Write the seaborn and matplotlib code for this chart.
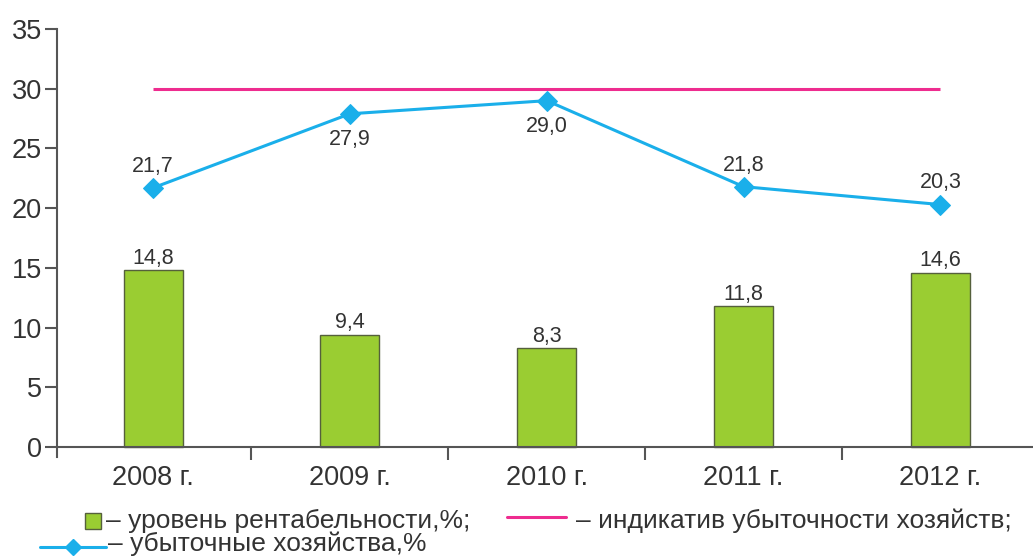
import matplotlib
matplotlib.use("Agg")
import matplotlib.pyplot as plt
from matplotlib.lines import Line2D
import seaborn as sns
import pandas as pd

# Data
years = ["2008 г.", "2009 г.", "2010 г.", "2011 г.", "2012 г."]
profitability = [14.8, 9.4, 8.3, 11.8, 14.6]
loss_farms = [21.7, 27.9, 29.0, 21.8, 20.3]
loss_indicator = 30
label_below = [False, True, True, False, False]

legend_labels = [
    "– уровень рентабельности,%;",
    "– индикатив убыточности хозяйств;",
    "– убыточные хозяйства,%",
]

BAR_COLOR = "#9ACD32"
BAR_EDGE = "#55603c"
LINE_COLOR = "#1AAFEA"
PINK = "#EE2C8F"
TEXT = "#333333"
AXIS = "#555555"

sns.set_style("white")
plt.rcParams["font.family"] = ["Liberation Sans", "DejaVu Sans"]

W, H = 1033, 556
fig = plt.figure(figsize=(W / 100, H / 100), dpi=100)
ax = fig.add_axes([57 / W, 1 - 456.6 / H, 1 - 57 / W, (456.6 - 29) / H])

df = pd.DataFrame({"year": years, "profit": profitability, "loss": loss_farms})

sns.barplot(data=df, x="year", y="profit", width=0.3, color=BAR_COLOR,
            saturation=1, edgecolor=BAR_EDGE, linewidth=1.0, ax=ax, zorder=2)

xs = list(range(len(years)))
ax.plot([xs[0], xs[-1]], [loss_indicator, loss_indicator], color=PINK,
        lw=2.2, zorder=3, solid_capstyle="butt")
sns.lineplot(x=xs, y=loss_farms, color=LINE_COLOR, lw=2.2, marker="D",
             markersize=10, markeredgecolor=LINE_COLOR, ax=ax, zorder=4)

# Value labels
LABEL_SIZE = 15.5
for i, v in enumerate(profitability):
    ax.annotate(f"{v:.1f}".replace(".", ","), (i, v), xytext=(0, 1),
                textcoords="offset points", ha="center", va="bottom",
                fontsize=LABEL_SIZE, color=TEXT)
for i, (v, below) in enumerate(zip(loss_farms, label_below)):
    if below:
        ax.annotate(f"{v:.1f}".replace(".", ","), (i, v), xytext=(0, -11),
                    textcoords="offset points", ha="center", va="top",
                    fontsize=LABEL_SIZE, color=TEXT)
    else:
        ax.annotate(f"{v:.1f}".replace(".", ","), (i, v), xytext=(0, 8),
                    textcoords="offset points", ha="center", va="bottom",
                    fontsize=LABEL_SIZE, color=TEXT)

# Axes styling
ax.set_xlim(-0.488, 4.47)
ax.set_ylim(-0.8, 35)
ax.set_yticks(range(0, 36, 5))
ax.set_xticks(xs)
ax.set_xticklabels(years)
ax.set_xticks([0.5, 1.5, 2.5, 3.5], minor=True)
ax.set_xlabel("")
ax.set_ylabel("")
ax.tick_params(axis="y", which="major", direction="out", length=9, width=1.5,
               color=AXIS, labelsize=19.5, labelcolor=TEXT, pad=2, left=True)
ax.tick_params(axis="x", which="major", length=0, labelsize=19.5,
               labelcolor=TEXT, pad=13)
ax.tick_params(axis="x", which="minor", direction="out", length=9, width=1.5,
               color=AXIS, bottom=True)
for s in ["top", "right"]:
    ax.spines[s].set_visible(False)
ax.spines["bottom"].set_position(("data", 0))
for s in ["left", "bottom"]:
    ax.spines[s].set_color(AXIS)
    ax.spines[s].set_linewidth(1.5)
ax.grid(False)

# Legend drawn beneath the axes
def fx(px):
    return px / W

def fy(py):
    return 1 - py / H

LEG_SIZE = 19
fig.add_artist(Line2D([fx(93)], [fy(521)], marker="s", markersize=11,
                      markerfacecolor=BAR_COLOR, markeredgecolor=BAR_EDGE,
                      markeredgewidth=1.0, linestyle="none",
                      transform=fig.transFigure))
fig.text(fx(106), fy(528), legend_labels[0], fontsize=LEG_SIZE, color=TEXT,
         va="baseline", ha="left")

fig.add_artist(Line2D([fx(507), fx(566)], [fy(517), fy(517)], color=PINK,
                      lw=2.2, transform=fig.transFigure))
fig.text(fx(576), fy(528), legend_labels[1], fontsize=LEG_SIZE, color=TEXT,
         va="baseline", ha="left")

fig.add_artist(Line2D([fx(40), fx(106)], [fy(547), fy(547)], color=LINE_COLOR,
                      lw=2.2, transform=fig.transFigure))
fig.add_artist(Line2D([fx(73)], [fy(547)], marker="D", markersize=8,
                      color=LINE_COLOR, linestyle="none",
                      transform=fig.transFigure))
fig.text(fx(108), fy(551), legend_labels[2], fontsize=LEG_SIZE, color=TEXT,
         va="baseline", ha="left")

fig.savefig("out.png", dpi=100, facecolor="white")
